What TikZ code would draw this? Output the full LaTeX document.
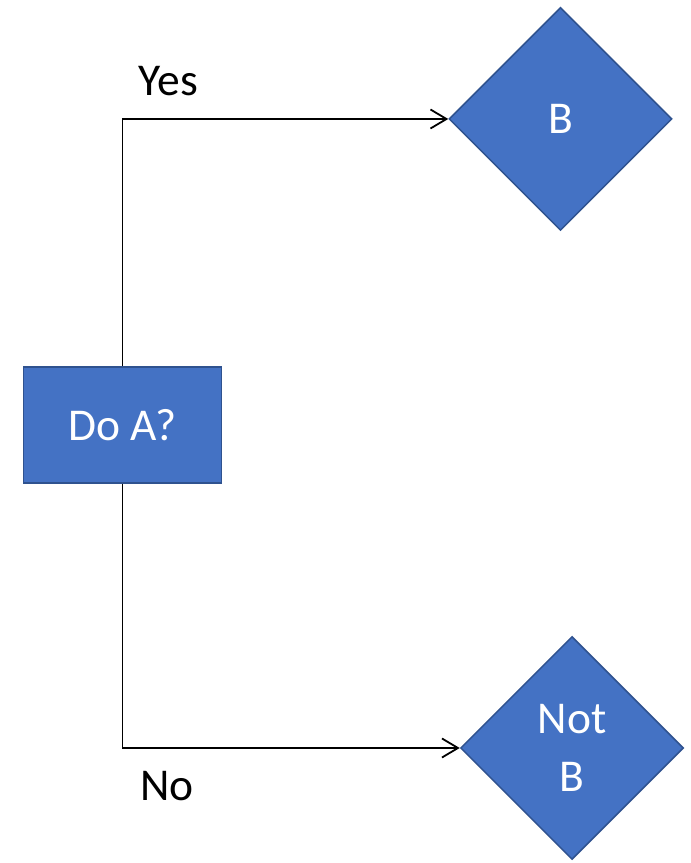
\documentclass[tikz,border=0pt]{standalone}
\usepackage{fontspec}
\setmainfont{Carlito}
\usetikzlibrary{shapes.geometric,arrows.meta}
\definecolor{boxfill}{HTML}{4472C4}
\definecolor{boxline}{HTML}{2F528F}
\tikzset{
  shapetext/.style={text=white, font=\fontsize{45.5}{58}\selectfont, align=center},
  procbox/.style={rectangle, fill=boxfill, draw=boxline, line width=1.5pt,
    minimum width=198pt, minimum height=116pt, inner sep=0pt, shapetext},
  choice/.style={diamond, fill=boxfill, draw=boxline, line width=1.5pt,
    minimum width=223pt, minimum height=223pt, inner sep=0pt, shapetext},
  link/.style={draw=black, line width=1.8pt, -{Straight Barb[length=16pt,width=19pt,line width=1.8pt]}},
  lbl/.style={font=\fontsize{45.5}{58}\selectfont, anchor=base, inner sep=0pt}
}
\begin{document}
\begin{tikzpicture}[x=1pt,y=1pt]
  \useasboundingbox (0,0) rectangle (691,863);
  \node[procbox] (a) at (122.5,438) {Do A?};
  \node[choice] (b) at (560.5,744) {B};
  \node[choice] (c) at (572,115) {Not\\B};
  \draw[link] (a.north) |- (b.west);
  \draw[link] (a.south) |- (c.west);
  \node[lbl] (yes) at (168.5,767) {Yes};
  \node[lbl] (no) at (166.7,62) {No};
\end{tikzpicture}
\end{document}
